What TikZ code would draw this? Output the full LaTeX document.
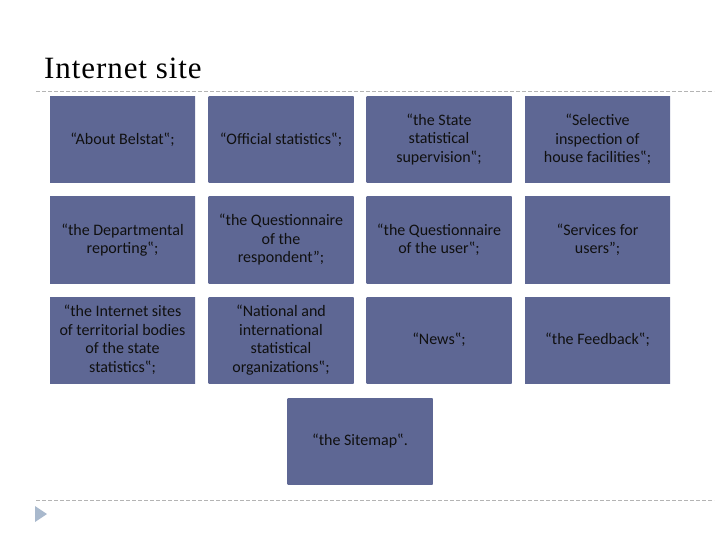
\documentclass[tikz,border=0pt]{standalone}
\usepackage{fontspec}
\setmainfont{Liberation Serif}
\newfontfamily\titlefont[LetterSpace=3]{Liberation Serif}
\newfontfamily\boxfont{Carlito}
\definecolor{cellmid}{HTML}{717EB0}
\definecolor{celledge}{HTML}{5E6794}
\definecolor{rulegray}{HTML}{B4B4B4}
\definecolor{bulletblue}{HTML}{A9B9CD}
\definecolor{celltext}{HTML}{101010}

\begin{document}
\begin{tikzpicture}[
  x=1pt, y=-1pt,
  cell/.style={
    rectangle, draw=none,
    left color=celledge, middle color=cellmid, right color=celledge,
    minimum width=145pt, minimum height=86pt, align=center,
    inner sep=2pt, text=celltext,
    font=\boxfont\fontsize{16}{18.5}\selectfont
  },
  sepline/.style={rulegray, dash pattern=on 4pt off 2pt, line width=0.8pt},
  hdr/.style={font=\titlefont\fontsize{31}{34}\selectfont, anchor=base west, inner sep=0pt},
]
\useasboundingbox (0,0) rectangle (720,540);

% Title and separators
\node[hdr] (title) at (44,79) {Internet site};
\draw[sepline] (36,91) -- (714,91);
\draw[sepline] (36,500) -- (714,500);
\fill[bulletblue] (35,506) -- (47,514) -- (35,522) -- cycle;

% Row 1
\node[cell] (about) at (122.5,139.5) {“About Belstat‟;};
\node[cell] (official) at (281,139.5) {“Official statistics‟;};
\node[cell] (supervision) at (439,139.5) {“the State\\statistical\\supervision‟;};
\node[cell] (inspection) at (597.5,139.5) {“Selective\\inspection of\\house facilities‟;};

% Row 2
\node[cell] (reporting) at (122.5,240) {“the Departmental\\reporting‟;};
\node[cell] (respondent) at (281,240) {“the Questionnaire\\of the\\respondent”;};
\node[cell] (user) at (439,240) {“the Questionnaire\\of the user‟;};
\node[cell] (services) at (597.5,240) {“Services for\\users”;};

% Row 3
\node[cell] (territorial) at (122.5,340) {“the Internet sites\\of territorial bodies\\of the state\\statistics‟;};
\node[cell] (national) at (281,340) {“National and\\international\\statistical\\organizations‟;};
\node[cell] (news) at (439,340) {“News‟;};
\node[cell] (feedback) at (597.5,340) {“the Feedback‟;};

% Last box
\node[cell] (sitemap) at (360,441.5) {“the Sitemap‟.};

\end{tikzpicture}
\end{document}
